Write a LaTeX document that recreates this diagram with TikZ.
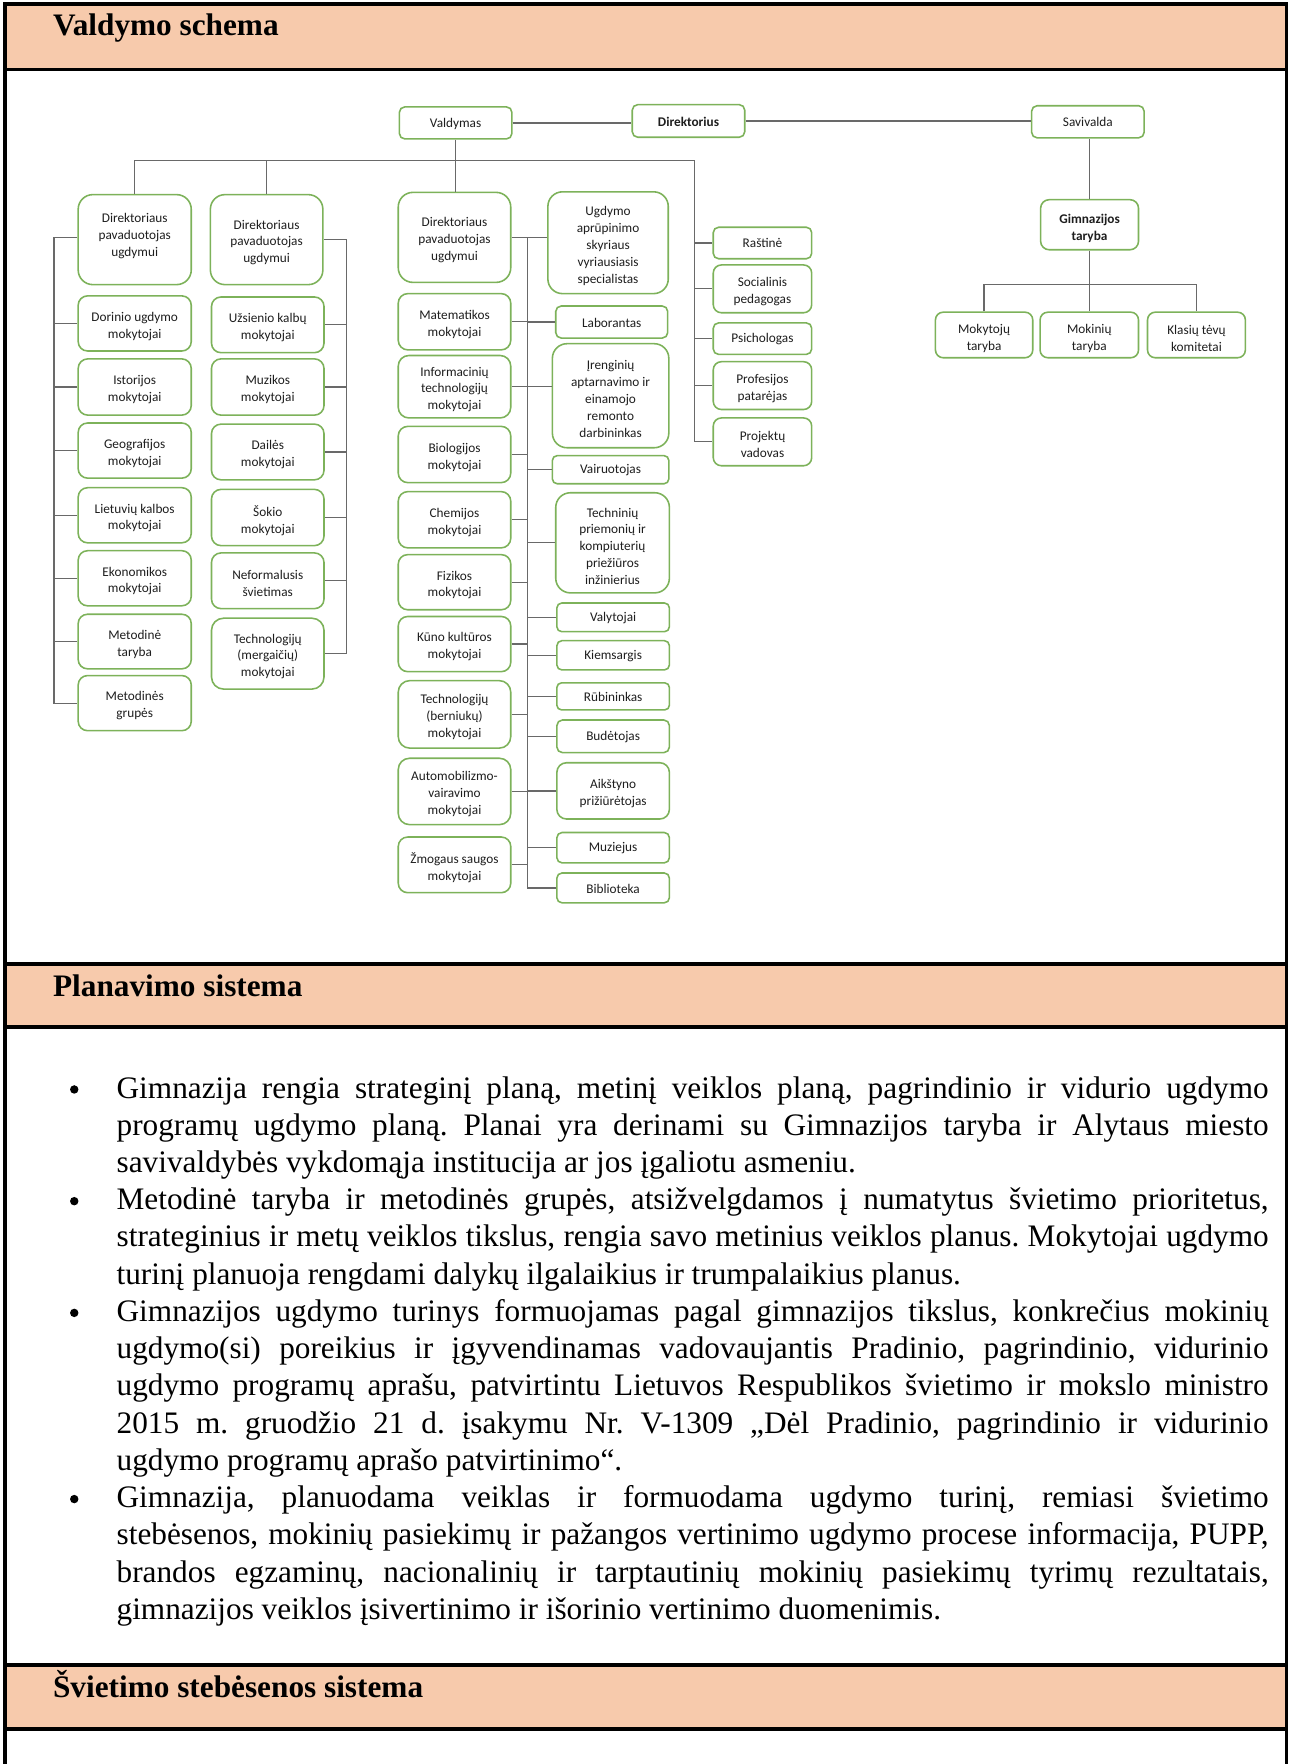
\documentclass[tikz,border=0pt]{standalone}
\usepackage{fontspec}
\setmainfont{Liberation Serif}
\newfontfamily\chartfont{Carlito}
\definecolor{peach}{HTML}{F7CAAC}
\definecolor{boxgreen}{RGB}{125,178,90}
\definecolor{conngray}{RGB}{105,105,105}
\definecolor{chtext}{RGB}{30,30,30}
\hyphenpenalty=10000
\exhyphenpenalty=10000
\tolerance=9999
\frenchspacing
\tikzset{
  bxshape/.style={draw=boxgreen, line width=1.4pt, fill=white, inner sep=0pt},
  bxtext/.style={align=center, inner sep=0pt, text=chtext, font=\chartfont\fontsize{11.8}{15}\selectfont},
  cn/.style={draw=conngray, line width=1.1pt},
  frameline/.style={line width=3pt, draw=black},
  htitle/.style={anchor=base west, inner sep=0pt, font=\bfseries\fontsize{27.8}{32}\selectfont},
  bodytext/.style={anchor=base west, inner sep=0pt, text width=1024pt, align=justify, font=\fontsize{27.8}{33.1}\selectfont},
  bul/.style={circle, fill=black, inner sep=0pt, minimum size=7.5pt},
}
% \bx[text shift]{name}{x1}{y1}{x2}{y2}
\newcommand\bx[6][2.5]{%
  \pgfmathsetmacro\bxr{min(0.17*(#6-#4),13)}%
  \node[bxshape,rounded corners=\bxr pt,minimum width={#5-#3},minimum height={#6-#4}] (#2) at ({(#3+#5)/2},{(#4+#6)/2}) {};
  \node[bxtext] (#2t) at ({(#3+#5)/2},{(#4+#6)/2+#1}) {\csname bxtxt@#2\endcsname};}
\makeatletter
\newcommand\bt[2]{\expandafter\def\csname bxtxt@#1\endcsname{#2}}
\makeatother
\begin{document}
\begin{tikzpicture}[x=1pt,y=-1pt]
\useasboundingbox (0,0) rectangle (1149,1568);
% frame and header bands
\fill[peach] (4.5,3.5) rectangle (1143.5,62);
\fill[peach] (4.5,857) rectangle (1143.5,913);
\fill[peach] (4.5,1480) rectangle (1143.5,1537);
\draw[frameline] (4.5,1568) -- (4.5,3.5) -- (1143.5,3.5) -- (1143.5,1568);
\foreach \yy in {62,857,913,1480,1537} \draw[frameline] (4.5,\yy) -- (1143.5,\yy);
\node[htitle] (t1) at (47,32) {Valdymo schema};
\node[htitle] (t2) at (47,886) {Planavimo sistema};
\node[htitle] (t3) at (47,1509) {Švietimo stebėsenos sistema};

% box texts
\bt{valdymas}{Valdymas}
\bt{direktorius}{\textbf{Direktorius}}
\bt{savivalda}{Savivalda}
\bt{dir1}{Direktoriaus\\pavaduotojas\\ugdymui}
\bt{dor}{Dorinio ugdymo\\mokytojai}
\bt{ist}{Istorijos\\mokytojai}
\bt{geo}{Geografijos\\mokytojai}
\bt{liet}{Lietuvių kalbos\\mokytojai}
\bt{eko}{Ekonomikos\\mokytojai}
\bt{mett}{Metodinė\\taryba}
\bt{metg}{Metodinės\\grupės}
\bt{dir2}{Direktoriaus\\pavaduotojas\\ugdymui}
\bt{uzs}{Užsienio kalbų\\mokytojai}
\bt{muz}{Muzikos\\mokytojai}
\bt{dai}{Dailės\\mokytojai}
\bt{sok}{Šokio\\mokytojai}
\bt{nef}{Neformalusis\\švietimas}
\bt{techm}{Technologijų\\(mergaičių)\\mokytojai}
\bt{dir3}{Direktoriaus\\pavaduotojas\\ugdymui}
\bt{mat}{Matematikos\\mokytojai}
\bt{inf}{Informacinių\\technologijų\\mokytojai}
\bt{bio}{Biologijos\\mokytojai}
\bt{che}{Chemijos\\mokytojai}
\bt{fiz}{Fizikos\\mokytojai}
\bt{kun}{Kūno kultūros\\mokytojai}
\bt{techb}{Technologijų\\(berniukų)\\mokytojai}
\bt{auto}{Automobilizmo-\\vairavimo\\mokytojai}
\bt{zmo}{Žmogaus saugos\\mokytojai}
\bt{ugd}{Ugdymo\\aprūpinimo\\skyriaus\\vyriausiasis\\specialistas}
\bt{lab}{Laborantas}
\bt{ire}{Įrenginių\\aptarnavimo ir\\einamojo\\remonto\\darbininkas}
\bt{vai}{Vairuotojas}
\bt{tec}{Techninių\\priemonių ir\\kompiuterių\\priežiūros\\inžinierius}
\bt{val}{Valytojai}
\bt{kie}{Kiemsargis}
\bt{rub}{Rūbininkas}
\bt{bud}{Budėtojas}
\bt{aik}{Aikštyno\\prižiūrėtojas}
\bt{muzie}{Muziejus}
\bt{bib}{Biblioteka}
\bt{ras}{Raštinė}
\bt{soc}{Socialinis\\pedagogas}
\bt{psi}{Psichologas}
\bt{pro}{Profesijos\\patarėjas}
\bt{proj}{Projektų\\vadovas}
\bt{gim}{\textbf{Gimnazijos}\\\textbf{taryba}}
\bt{mokyt}{Mokytojų\\taryba}
\bt{mokin}{Mokinių\\taryba}
\bt{klas}{Klasių tėvų\\komitetai}

% top row
\bx[0.5]{valdymas}{355}{95}{455}{123.5}
\bx[0.5]{direktorius}{562}{93}{662}{122}
\bx[0.5]{savivalda}{917}{94}{1017}{122.5}

% column 1
\bx[-3]{dir1}{69.5}{173}{170}{253}
\bx{dor}{69.5}{263}{170}{312}
\bx{ist}{69.5}{319}{170}{369}
\bx{geo}{69.5}{376}{170}{425}
\bx{liet}{69.5}{433.5}{170}{482.5}
\bx{eko}{69.5}{489.5}{170}{538.5}
\bx{mett}{69.5}{546}{170}{594.5}
\bx{metg}{69.5}{600.5}{170}{649.5}

% column 2
\bx{dir2}{187}{173}{287}{253}
\bx{uzs}{188}{264}{288}{313.5}
\bx{muz}{188}{319}{288}{369}
\bx{dai}{188}{377}{288}{426.5}
\bx{sok}{188}{435}{288}{485}
\bx{nef}{188}{491.5}{288}{541}
\bx{techm}{188}{549.5}{288}{612.5}

% column 3
\bx{dir3}{354}{171}{454}{251}
\bx{mat}{354}{261}{454}{311}
\bx{inf}{354}{316}{454}{371.5}
\bx{bio}{354}{379}{454}{429}
\bx{che}{354}{437}{454}{487}
\bx{fiz}{354}{493}{454}{542}
\bx{kun}{354}{548}{454}{597}
\bx{techb}{354}{605}{454}{665}
\bx{auto}{354}{674}{454}{733}
\bx{zmo}{354}{744}{454}{793.5}

% column 4
\bx[3]{ugd}{487}{170.5}{594}{261}
\bx[1]{lab}{494}{272}{593.5}{300.5}
\bx[3]{ire}{491}{305.5}{594.5}{398}
\bx[0.5]{vai}{491}{405}{594.5}{430}
\bx[3]{tec}{494}{438}{595}{527}
\bx[0.5]{val}{495}{536}{595}{561.5}
\bx[0.5]{kie}{495}{569.5}{595}{595.5}
\bx[0.5]{rub}{495}{607}{595}{631}
\bx[0.5]{bud}{495}{640}{595}{669}
\bx{aik}{495}{678}{595}{728}
\bx[0.5]{muzie}{495}{740}{595}{767}
\bx[0.5]{bib}{495}{776}{595}{802.5}

% column 5
\bx[0]{ras}{634}{202}{721.5}{230}
\bx{soc}{634}{235.5}{721.5}{278}
\bx[0.5]{psi}{634}{287}{721.5}{315}
\bx{pro}{634}{321.5}{721.5}{364}
\bx{proj}{634}{371.5}{721.5}{414}

% self-government group
\bx[3]{gim}{925}{177.5}{1012}{222}
\bx[3]{mokyt}{831.5}{277.5}{918}{318}
\bx[3]{mokin}{924.5}{277.5}{1012}{318}
\bx[3]{klas}{1020}{277.5}{1107}{318}

% connectors
\draw[cn] (valdymas.east) -- (direktorius.west |- valdymas.east);
\draw[cn] (direktorius.east) -- (savivalda.west |- direktorius.east);
\coordinate (busR) at (617,143);
\draw[cn] (dir1.north) |- (busR) |- (proj.west);
\draw[cn] (dir2.north) -- (dir2.north |- busR);
\draw[cn] (valdymas.south) -- (valdymas.south |- dir3.north);
\foreach \nm in {ras,soc,psi,pro} \draw[cn] (\nm.west -| busR) -- (\nm.west);

\coordinate (lsp) at (48,211);
\draw[cn] (lsp -| dir1.west) -- (lsp) |- (metg.west);
\foreach \nm in {dor,ist,geo,liet,eko,mett} \draw[cn] (\nm.west) -- (\nm.west -| lsp);

\coordinate (rsp) at (308,213);
\draw[cn] (dir2.east) -- (dir2.east -| rsp) |- (techm.east);
\foreach \nm in {uzs,muz,dai,sok,nef} \draw[cn] (\nm.east) -- (\nm.east -| rsp);

\coordinate (csp) at (469,211);
\draw[cn] (dir3.east) -- (ugd.west |- dir3.east);
\draw[cn] (dir3.east -| csp) |- (bib.west);
\foreach \nm in {mat,inf,bio,che,fiz,kun,techb,auto,zmo} \draw[cn] (\nm.east) -- (\nm.east -| csp);
\foreach \nm in {lab,vai,tec,val,kie,rub,bud,aik,muzie} \draw[cn] (\nm.west -| csp) -- (\nm.west);
\draw[cn] (inf.east -| csp) -- (inf.east -| ire.west);

\draw[cn] (gim.north |- savivalda.south) -- (gim.north);
\draw[cn] (gim.south) -- (gim.south |- mokin.north);
\coordinate (gbus) at (969,253);
\draw[cn] (mokyt.north) |- (gbus) -| (klas.north);

% planning text
\node[bul] (b1) at (66,968.4) {};
\node[bodytext] (p1) at (103.5,976) {Gimnazija rengia strateginį planą, metinį veiklos planą, pagrindinio ir vidurio ugdymo\linebreak programų ugdymo planą. Planai yra derinami su Gimnazijos taryba ir Alytaus miesto\linebreak savivaldybės vykdomąja institucija ar jos įgaliotu asmeniu.};
\node[bul] (b2) at (66,1067.7) {};
\node[bodytext] (p2) at (103.5,1075.3) {Metodinė taryba ir metodinės grupės, atsižvelgdamos į numatytus švietimo prioritetus,\linebreak strateginius ir metų veiklos tikslus, rengia savo metinius veiklos planus. Mokytojai ugdymo\linebreak turinį planuoja rengdami dalykų ilgalaikius ir trumpalaikius planus.};
\node[bul] (b3) at (66,1167) {};
\node[bodytext] (p3) at (103.5,1174.6) {Gimnazijos ugdymo turinys formuojamas pagal gimnazijos tikslus, konkrečius mokinių\linebreak ugdymo(si) poreikius ir įgyvendinamas vadovaujantis Pradinio, pagrindinio, vidurinio\linebreak ugdymo programų aprašu, patvirtintu Lietuvos Respublikos švietimo ir mokslo ministro\linebreak 2015 m. gruodžio 21 d. įsakymu Nr. V-1309 „Dėl Pradinio, pagrindinio ir vidurinio\linebreak ugdymo programų aprašo patvirtinimo“.};
\node[bul] (b4) at (66,1332.5) {};
\node[bodytext] (p4) at (103.5,1340.1) {Gimnazija, planuodama veiklas ir formuodama ugdymo turinį, remiasi švietimo\linebreak stebėsenos, mokinių pasiekimų ir pažangos vertinimo ugdymo procese informacija, PUPP,\linebreak brandos egzaminų, nacionalinių ir tarptautinių mokinių pasiekimų tyrimų rezultatais,\linebreak gimnazijos veiklos įsivertinimo ir išorinio vertinimo duomenimis.};
\end{tikzpicture}
\end{document}
